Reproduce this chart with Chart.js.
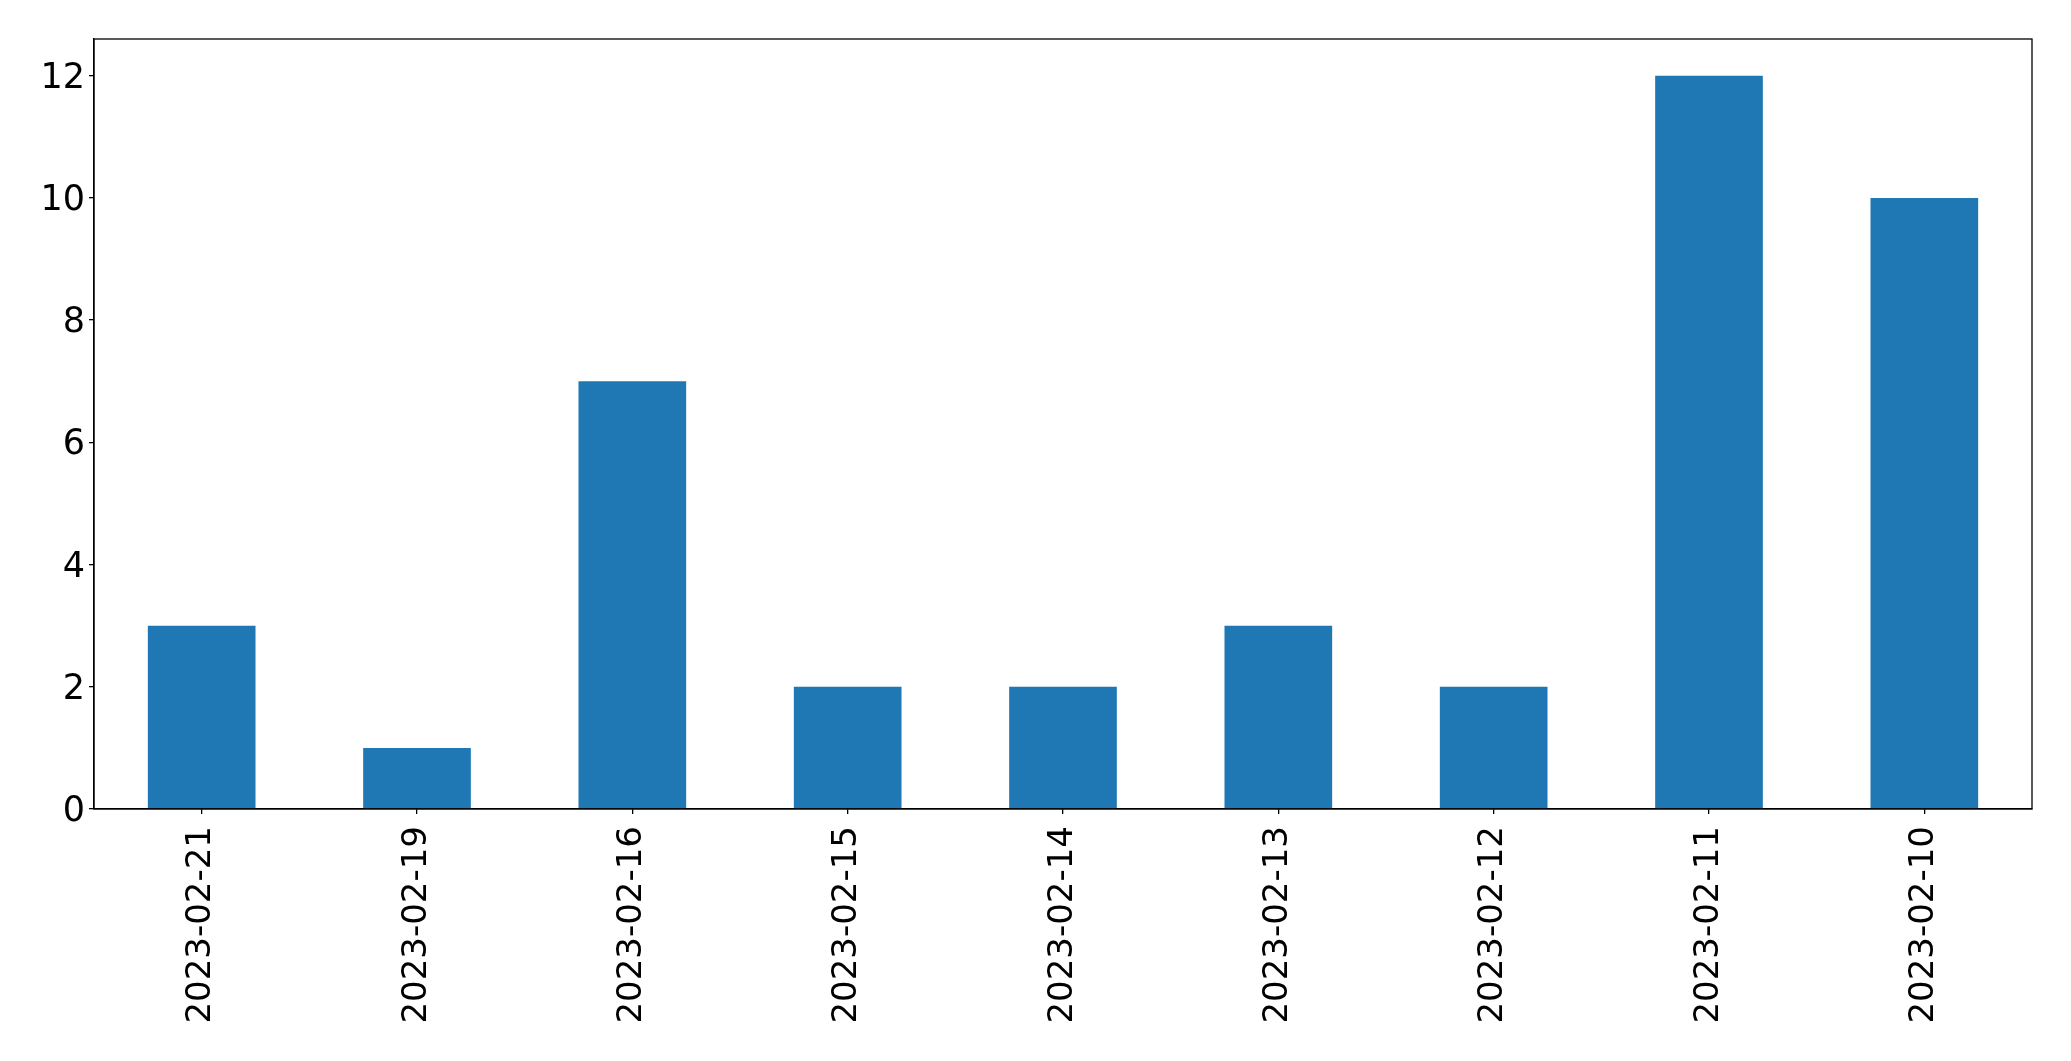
<!DOCTYPE html>
<html>
<head>
<meta charset="utf-8">
<script src="https://cdn.jsdelivr.net/npm/chart.js@4/dist/chart.umd.min.js"></script>
<style>
  html, body { margin: 0; padding: 0; background: #fff; }
  #wrap { width: 2071px; height: 1061px; }
</style>
</head>
<body>
<div id="wrap"><canvas id="barChart"></canvas></div>
<script>
/*global Chart*/

// data
var dates = ["2023-02-21", "2023-02-19", "2023-02-16", "2023-02-15", "2023-02-14",
             "2023-02-13", "2023-02-12", "2023-02-11", "2023-02-10"];
var counts = [3, 1, 7, 2, 2, 3, 2, 12, 10];
var yTicks = [0, 2, 4, 6, 8, 10, 12];

// box round the plot area (top + right sides too)
var frame = {
    id: 'frame',
    afterDraw: function (chart) {
        var a = chart.chartArea, c = chart.ctx;
        c.save();
        c.strokeStyle = '#000';
        c.lineWidth = 1.3;
        c.strokeRect(a.left, a.top, a.right - a.left, a.bottom - a.top);
        c.restore();
    }
};

var ctx = document.getElementById("barChart").getContext("2d");
new Chart(ctx, {
    type: 'bar',
    data: {
        labels: dates,
        datasets: [{
            data: counts,
            backgroundColor: '#1f77b4',
            categoryPercentage: 1.0,
            barPercentage: 0.5
        }]
    },
    options: {
        responsive: true,
        maintainAspectRatio: false,
        animation: false,
        layout: { padding: { top: 39, right: 39, left: 0, bottom: 0 } },
        plugins: { legend: { display: false }, tooltip: { enabled: false } },
        scales: {
            x: {
                grid: { display: true, offset: false, drawOnChartArea: false, drawTicks: true,
                        tickLength: 5, color: '#000', lineWidth: 1.3 },
                border: { display: true, color: '#000', width: 1.3 },
                ticks: { color: '#000', font: { family: 'DejaVu Sans', size: 34 },
                         minRotation: 90, maxRotation: 90, padding: 12, autoSkip: false },
                afterFit: function (s) { s.height = 252; }
            },
            y: {
                min: 0,
                max: 12.6,
                grid: { display: true, drawOnChartArea: false, drawTicks: true,
                        tickLength: 5, color: '#000', lineWidth: 1.3 },
                border: { display: true, color: '#000', width: 1.3 },
                ticks: { color: '#000', font: { family: 'DejaVu Sans', size: 35 },
                         stepSize: 2, padding: 4, labelOffset: 3 },
                afterBuildTicks: function (s) {
                    s.ticks = yTicks.map(function (v) { return { value: v }; });
                },
                afterFit: function (s) { s.width = 94; }
            }
        }
    },
    plugins: [frame]
});
</script>
</body>
</html>
